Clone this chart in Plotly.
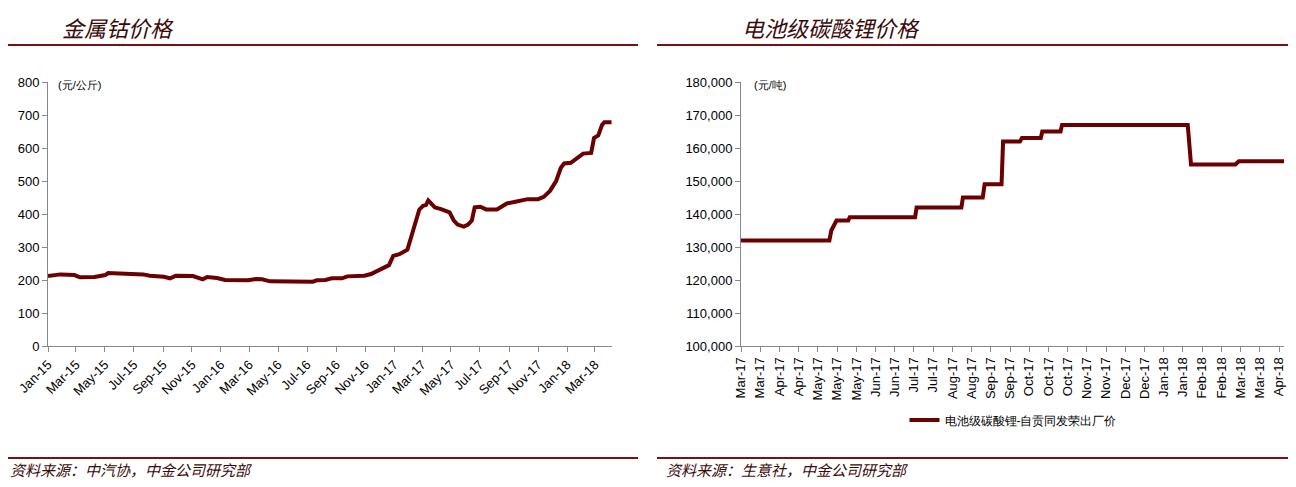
import plotly.graph_objects as go
from plotly.subplots import make_subplots

# 中国金属钴 99.8% (元/公斤)
cobalt_dates = [
    "2015-01-01", "2015-01-27", "2015-02-26", "2015-03-09", "2015-04-09", "2015-04-22",
    "2015-05-02", "2015-05-08", "2015-07-04", "2015-07-21", "2015-08-04", "2015-09-03",
    "2015-09-16", "2015-09-28", "2015-11-03", "2015-11-24", "2015-12-03", "2015-12-24",
    "2016-01-10", "2016-02-06", "2016-02-28", "2016-03-15", "2016-03-28", "2016-04-14",
    "2016-05-18", "2016-07-13", "2016-07-22", "2016-08-09", "2016-08-22", "2016-09-13",
    "2016-09-24", "2016-10-30", "2016-11-13", "2016-11-21", "2016-12-07", "2016-12-21",
    "2016-12-30", "2017-01-12", "2017-01-29", "2017-02-06", "2017-02-15", "2017-02-23",
    "2017-03-03", "2017-03-09", "2017-03-14", "2017-03-28", "2017-04-10", "2017-04-28",
    "2017-05-07", "2017-05-15", "2017-05-28", "2017-06-06", "2017-06-14", "2017-06-20",
    "2017-07-02", "2017-07-14", "2017-08-06", "2017-08-27", "2017-09-14", "2017-09-27",
    "2017-10-10", "2017-11-01", "2017-11-13", "2017-11-26", "2017-12-09", "2017-12-19",
    "2017-12-26", "2018-01-09", "2018-01-26", "2018-02-04", "2018-02-21", "2018-02-27",
    "2018-03-08", "2018-03-16", "2018-03-21", "2018-04-05",
]
cobalt_price = [
    212, 217, 215, 208, 209, 214, 215, 221, 220, 217, 213, 210,
    205, 213, 212, 202, 209, 206, 200, 198, 199, 203, 202, 196,
    195, 195, 199, 200, 205, 205, 211, 213, 218, 224, 235, 245,
    273, 278, 292, 330, 365, 413, 425, 427, 441, 420, 415, 405,
    380, 368, 362, 368, 380, 420, 422, 414, 414, 432, 437, 442,
    445, 445, 452, 470, 500, 540, 553, 555, 575, 583, 585, 630,
    638, 670, 678, 678,
]

# 电池级碳酸锂-自贡同发荣出厂价 (元/吨), x in category-slot units
lithium_labels = [
    "Mar-17", "Mar-17", "Apr-17", "Apr-17", "May-17", "May-17", "May-17", "Jun-17",
    "Jun-17", "Jul-17", "Jul-17", "Aug-17", "Aug-17", "Sep-17", "Sep-17", "Oct-17",
    "Oct-17", "Oct-17", "Nov-17", "Nov-17", "Dec-17", "Dec-17", "Jan-18", "Jan-18",
    "Feb-18", "Feb-18", "Mar-18", "Mar-18", "Apr-18",
]
lithium_pos = [
    0, 4.6, 4.7, 4.97, 5.58, 5.66, 9.06, 9.14, 11.47, 11.55, 12.58, 12.68,
    13.56, 13.64, 14.52, 14.62, 15.6, 15.68, 16.63, 16.71, 23.25, 23.42,
    25.73, 25.91, 28.26,
]
lithium_price = [
    132000, 132000, 135000, 138000, 138000, 139000, 139000, 142000, 142000, 145000,
    145000, 149000, 149000, 162000, 162000, 163000, 163000, 165000, 165000, 167000,
    167000, 155000, 155000, 156000, 156000,
]

RED = "#6b0000"
FONT = "Liberation Sans, Arial, sans-serif"
W, H, OFF = 1280, 471, 8  # page body has an 8px margin


def px(x):
    return max(0.0, min(1.0, (x - OFF) / W))


def py(y):
    return max(0.0, min(1.0, 1 - (y - OFF) / H))


fig = make_subplots(rows=1, cols=2)
fig.add_trace(go.Scatter(x=cobalt_dates, y=cobalt_price, mode="lines",
                         line=dict(color=RED, width=4), name="中国金属钴 99.8%",
                         legend="legend"), row=1, col=1)
fig.add_trace(go.Scatter(x=lithium_pos, y=lithium_price, mode="lines",
                         line=dict(color=RED, width=4), name="电池级碳酸锂-自贡同发荣出厂价",
                         legend="legend2"), row=1, col=2)

axis_common = dict(showgrid=False, showline=True, linecolor="#888", linewidth=1,
                   ticks="outside", ticklen=5, tickcolor="#888", automargin=False,
                   tickfont=dict(size=13, color="black"))
fig.update_xaxes(domain=[px(48), px(612)], type="date", range=["2015-01-01", "2018-04-06"],
                 dtick="M2", tick0="2015-01-01", tickformat="%b-%y", tickangle=-45,
                 **axis_common, row=1, col=1)
fig.update_yaxes(domain=[py(346), py(82)], range=[0, 800], dtick=100, **axis_common,
                 row=1, col=1)
fig.update_xaxes(domain=[px(741), px(1284)], range=[0, 28.26], tickmode="array",
                 tickvals=list(range(len(lithium_labels))), ticktext=lithium_labels,
                 tickangle=-90, **axis_common, row=1, col=2)
fig.update_yaxes(domain=[py(346), py(82)], range=[100000, 180000], dtick=10000,
                 tickformat=",d", **axis_common, row=1, col=2)

fig.add_annotation(text="(元/公斤)", x=px(56), y=py(85), xref="paper", yref="paper",
                   xanchor="left", yanchor="middle", showarrow=False, font=dict(size=11))
fig.add_annotation(text="(元/吨)", x=px(752), y=py(85), xref="paper", yref="paper",
                   xanchor="left", yanchor="middle", showarrow=False, font=dict(size=11))

titles = [("金属钴价格", 60), ("电池级碳酸锂价格", 740)]
for t, x in titles:
    fig.add_annotation(text="<i>" + t + "</i>", x=px(x), y=py(27), xref="paper",
                       yref="paper", xanchor="left", yanchor="middle", showarrow=False,
                       font=dict(size=22, color="#3a0a0a", family="Noto Sans CJK SC"))
sources = [("资料来源：中汽协，中金公司研究部", 8), ("资料来源：生意社，中金公司研究部", 664)]
for t, x in sources:
    fig.add_annotation(text="<i>" + t + "</i>", x=px(x), y=py(469), xref="paper",
                       yref="paper", xanchor="left", yanchor="middle", showarrow=False,
                       font=dict(size=15, color="#3a0a0a", family="Noto Sans CJK SC"))

for x0, x1 in [(0, 638), (657, 1296)]:
    for yp in [45, 458]:
        fig.add_shape(type="line", xref="paper", yref="paper", x0=px(x0), x1=px(x1),
                      y0=py(yp), y1=py(yp), line=dict(color="#7a1010", width=2))

fig.update_layout(
    width=W, height=H, margin=dict(l=0, r=0, t=0, b=0, autoexpand=False),
    plot_bgcolor="white", paper_bgcolor="white",
    font=dict(family=FONT, size=12, color="black"),
    legend=dict(x=px(323), y=py(420), xanchor="center", yanchor="middle",
                orientation="h", font=dict(size=12)),
    legend2=dict(x=px(1013), y=py(420), xanchor="center", yanchor="middle",
                 orientation="h", font=dict(size=12)),
)

fig.write_html("out.html")
